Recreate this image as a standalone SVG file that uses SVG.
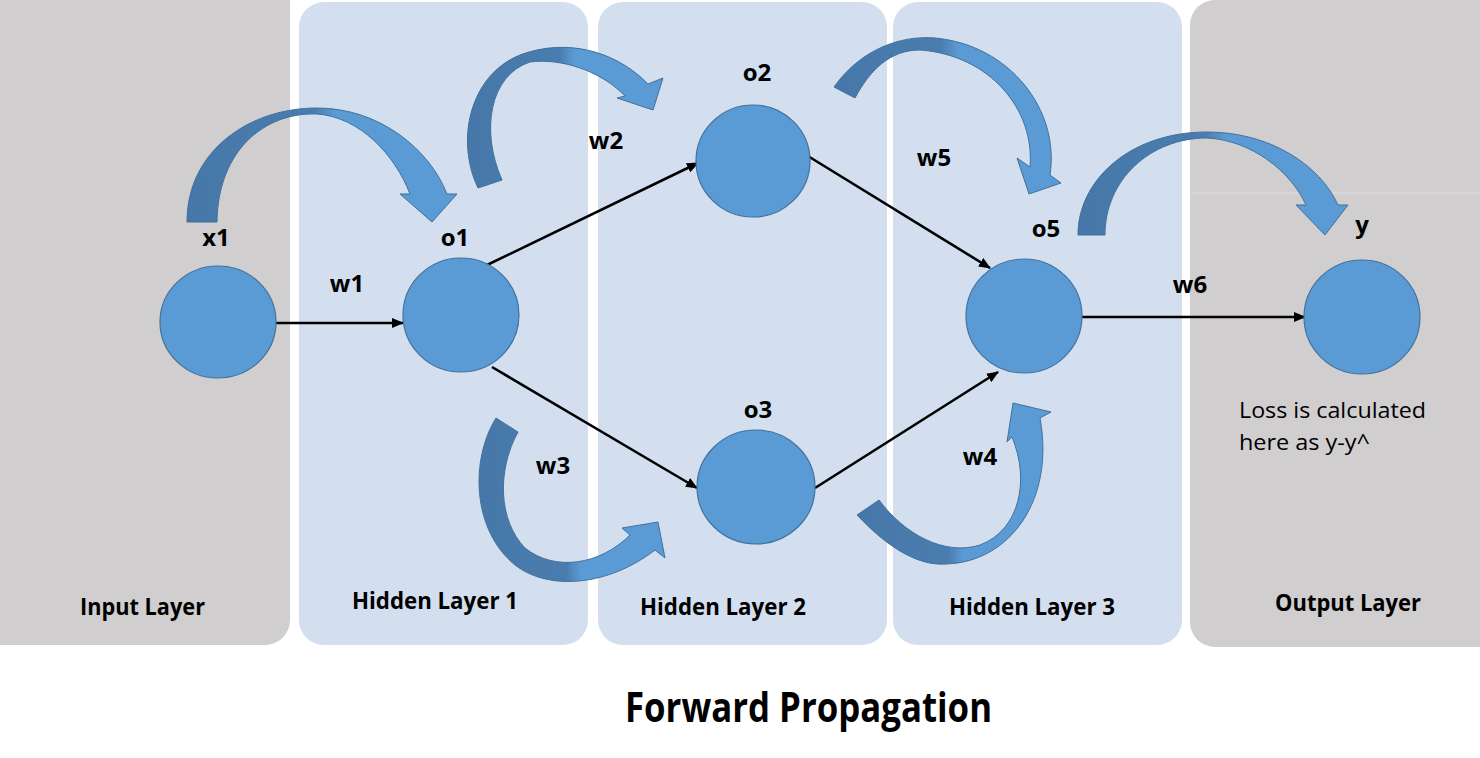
<svg xmlns="http://www.w3.org/2000/svg" width="1480" height="758" viewBox="0 0 1480 758">
<defs>
<marker id="ah" viewBox="0 0 12 10" refX="11" refY="5" markerWidth="12" markerHeight="10" markerUnits="userSpaceOnUse" orient="auto">
<path d="M0 0 L12 5 L0 10 Z" fill="#000"/>
</marker>
<linearGradient id="cg" x1="0" y1="0" x2="1" y2="0">
<stop offset="0" stop-color="#4677A8"/>
<stop offset="0.47" stop-color="#4A7DAF"/>
<stop offset="0.55" stop-color="#5B9BD5"/>
<stop offset="1" stop-color="#5B9BD5"/>
</linearGradient>
</defs>
<style>
.gray{fill:#D0CECE}
.blue{fill:#D3DEEF}
.node{fill:#5B9BD5;stroke:#41719C;stroke-width:1.2}
.edge{stroke:#000;stroke-width:2.6;fill:none;marker-end:url(#ah)}
.curve{fill:url(#cg);stroke:#41719C;stroke-width:1}
.lbl{font-family:"Open Sans","Liberation Sans",sans-serif;font-weight:bold;font-size:24px;fill:#000;text-anchor:middle}
.pl{font-family:"Open Sans","Liberation Sans",sans-serif;font-weight:bold;font-size:24px;fill:#000}
.note{font-family:"Open Sans","Liberation Sans",sans-serif;font-size:22px;fill:#000}
.title{font-family:"Open Sans","Liberation Sans",sans-serif;font-weight:bold;font-size:42px;fill:#000}
</style>
<rect width="1480" height="758" fill="#fff"/>
<g id="panels">
<path class="gray" d="M0 0 H290 V620 A25 25 0 0 1 265 645 H0 Z"/>
<rect class="blue" x="299" y="2" width="289" height="643" rx="25"/>
<rect class="blue" x="598" y="2" width="289" height="643" rx="25"/>
<rect class="blue" x="893" y="2" width="289" height="643" rx="25"/>
<rect class="gray" x="1190" y="0" width="315" height="647" rx="25"/>
<line x1="1191" y1="193" x2="1480" y2="193" stroke="#DCDBDB" stroke-width="1"/>
</g>
<g id="curved-arrows">
<path class="curve" d="M187 222 C187 150 250 108 317 108 C380 108 430 150 447 194 L457 194 L432 222 L400 194 L410 194 C395 155 360 117 317 114 C265 112 218 150 217 222 Z"/>
<path class="curve" d="M478 188 C455 140 470 75 520 55 C565 38 615 50 648 84 L663 78 L653 110 L617 98 L625 96 C600 70 560 58 530 62 C490 75 480 130 502 180 Z"/>
<path class="curve" d="M834 87 C860 50 900 35 935 38 C1010 45 1060 110 1050 175 L1061 183 L1029 194 L1017 158 L1030 167 C1035 110 990 55 920 50 C890 50 870 70 855 98 Z"/>
<path class="curve" d="M1078 235 C1078 180 1130 132 1207 132 C1270 132 1320 165 1338 205 L1348 205 L1325 235 L1296 205 L1306 205 C1290 170 1250 140 1207 138 C1150 138 1105 180 1105 235 Z"/>
<path class="curve" d="M496 418 C470 460 472 530 515 565 C550 592 610 585 655 550 L665 558 L658 522 L622 528 L630 535 C600 565 555 572 525 548 C498 520 497 470 518 432 Z"/>
<path class="curve" d="M857 515 C890 550 920 566 946 564 C1010 562 1055 500 1040 418 L1051 412 L1013 403 L1007 442 L1012 437 C1030 480 1020 530 980 545 C945 556 905 535 879 500 Z"/>
</g>
<g id="connectors">
<line class="edge" x1="276" y1="323" x2="403" y2="323"/>
<line class="edge" x1="485" y1="266" x2="698" y2="163"/>
<line class="edge" x1="492" y1="367" x2="697" y2="488"/>
<line class="edge" x1="803" y1="153" x2="990" y2="268"/>
<line class="edge" x1="815" y1="488" x2="998" y2="372"/>
<line class="edge" x1="1082" y1="317" x2="1305" y2="317"/>
</g>
<g id="node-x1"><ellipse class="node" cx="218" cy="322" rx="58" ry="56"/><text class="lbl" x="216" y="246">x1</text></g>
<g id="node-o1"><ellipse class="node" cx="461" cy="315" rx="58" ry="57"/><text class="lbl" x="455" y="246">o1</text></g>
<g id="node-o2"><ellipse class="node" cx="753" cy="161" rx="57" ry="56"/><text class="lbl" x="757" y="81">o2</text></g>
<g id="node-o3"><ellipse class="node" cx="756" cy="487" rx="59" ry="57"/><text class="lbl" x="758" y="418">o3</text></g>
<g id="node-o5"><ellipse class="node" cx="1024" cy="316" rx="58" ry="57"/><text class="lbl" x="1046" y="237">o5</text></g>
<g id="node-y"><ellipse class="node" cx="1362" cy="317" rx="58" ry="57"/><text class="lbl" x="1362" y="233">y</text></g>
<g id="weights">
<text class="lbl" x="347" y="292">w1</text>
<text class="lbl" x="606" y="149">w2</text>
<text class="lbl" x="553" y="474">w3</text>
<text class="lbl" x="980" y="465">w4</text>
<text class="lbl" x="934" y="166">w5</text>
<text class="lbl" x="1190" y="293">w6</text>
</g>
<g id="loss-note">
<text class="note" x="1239" y="418" textLength="187" lengthAdjust="spacingAndGlyphs">Loss is calculated</text>
<text class="note" x="1239" y="450" textLength="131" lengthAdjust="spacingAndGlyphs">here as y-y^</text>
</g>
<g id="panel-labels">
<text class="pl" x="80" y="615" textLength="125" lengthAdjust="spacingAndGlyphs">Input Layer</text>
<text class="pl" x="352" y="609" textLength="166" lengthAdjust="spacingAndGlyphs">Hidden Layer 1</text>
<text class="pl" x="640" y="615" textLength="166" lengthAdjust="spacingAndGlyphs">Hidden Layer 2</text>
<text class="pl" x="949" y="615" textLength="166" lengthAdjust="spacingAndGlyphs">Hidden Layer 3</text>
<text class="pl" x="1275" y="611" textLength="146" lengthAdjust="spacingAndGlyphs">Output Layer</text>
</g>
<text class="title" x="625" y="722" textLength="367" lengthAdjust="spacingAndGlyphs">Forward Propagation</text>
</svg>
